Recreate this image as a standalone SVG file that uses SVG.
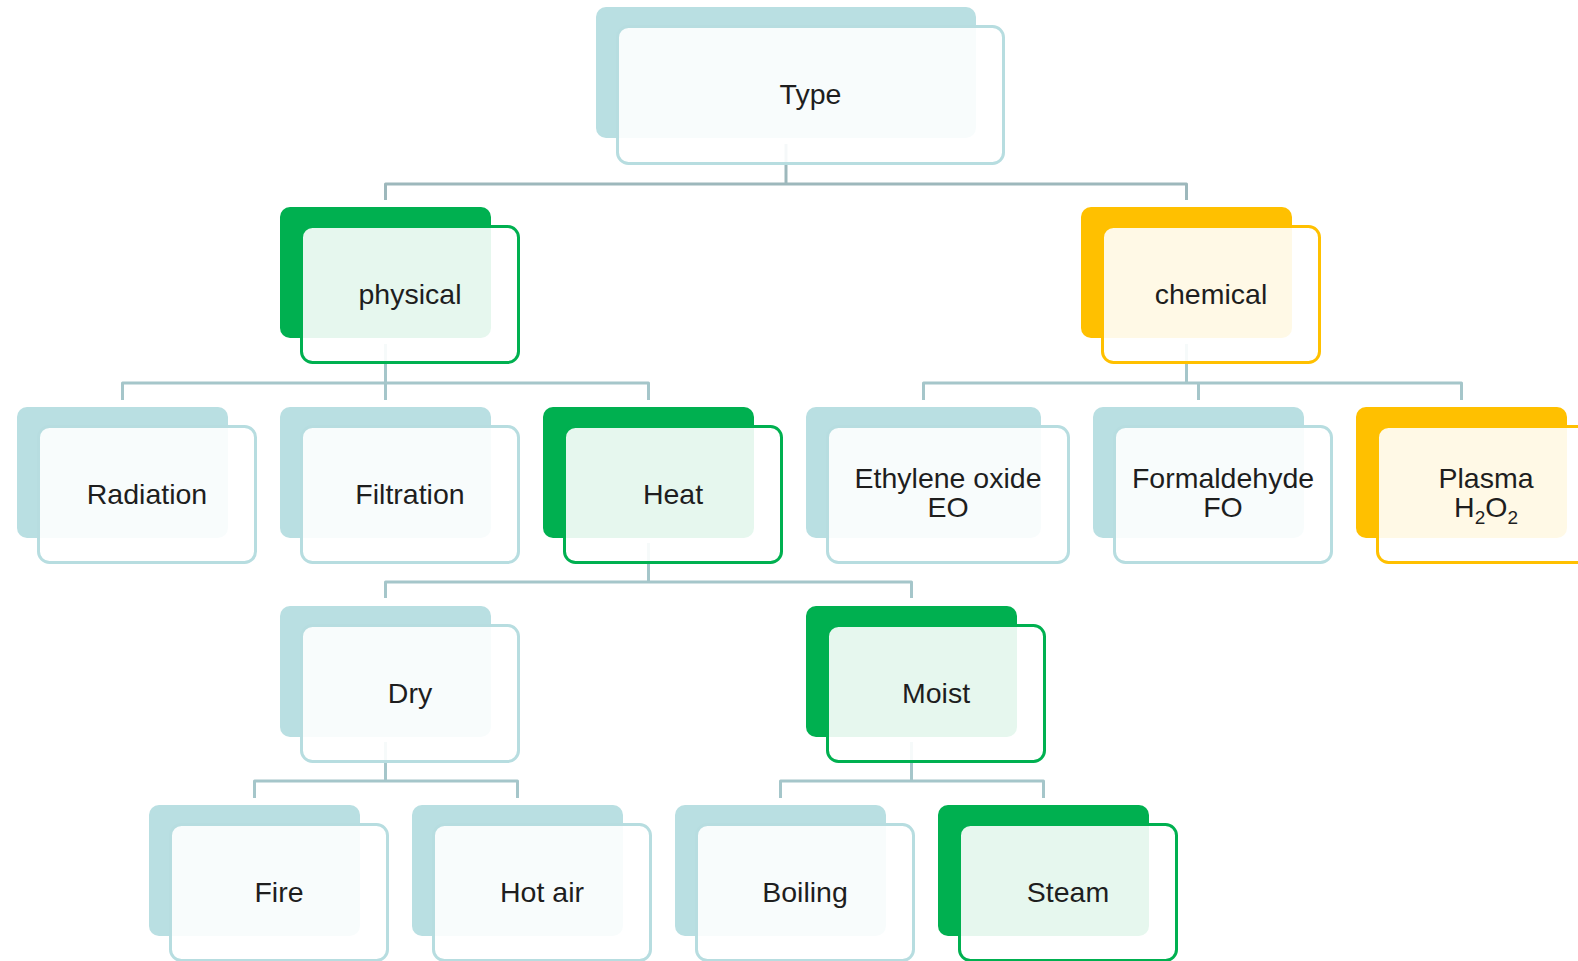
<svg xmlns="http://www.w3.org/2000/svg" width="1578" height="961" viewBox="0 0 1578 961">
<style>
  .bg{fill:#ffffff}
  .conn path{fill:none;stroke:#a5c6ca;stroke-width:3;stroke-linejoin:round;stroke-linecap:butt}
  .conn path.top{stroke:#9db8bc}
  .back{stroke:none}
  .front{fill:#ffffff;fill-opacity:0.9;stroke-width:3}
  .teal .back{fill:#b9dfe2}
  .teal .front{stroke:#b7dde0}
  .green .back{fill:#00b050}
  .green .front{stroke:#00b050}
  .orange .back{fill:#ffc000}
  .orange .front{stroke:#ffc000}
  text{font-family:"Liberation Sans",Arial,Helvetica,sans-serif;font-size:28.5px;fill:#1e1e1e;text-anchor:middle}
  .sub{font-size:19px}
</style>
<rect class="bg" x="0" y="0" width="1578" height="961"/>
<g id="connectors" class="conn">
  <path class="top" d="M786 144 V184"/>
  <path class="top" d="M385.5 200 V184 H1186.5 V200"/>
  <path d="M385.5 344 V400"/>
  <path d="M122.5 400 V383 H648.5 V400"/>
  <path d="M1186.5 344 V383"/>
  <path d="M923.5 400 V383 H1461.5 V400"/>
  <path d="M1198.5 383 V400"/>
  <path d="M648.5 543 V582"/>
  <path d="M385.5 598 V582 H911.5 V598"/>
  <path d="M385.5 742 V781"/>
  <path d="M254.5 798 V781 H517.5 V798"/>
  <path d="M911.5 742 V781"/>
  <path d="M780.5 798 V781 H1043.5 V798"/>
</g>
<g id="n-type" class="node teal">
  <rect class="back" x="596" y="7" width="380" height="131" rx="10"/>
  <rect class="front" x="617.5" y="26.5" width="386" height="137" rx="11"/>
  <text x="810.5" y="104">Type</text>
</g>
<g id="n-physical" class="node green">
  <rect class="back" x="280" y="207" width="211" height="131" rx="10"/>
  <rect class="front" x="301.5" y="226.5" width="217" height="136" rx="11"/>
  <text x="410" y="304">physical</text>
</g>
<g id="n-chemical" class="node orange">
  <rect class="back" x="1081" y="207" width="211" height="131" rx="10"/>
  <rect class="front" x="1102.5" y="226.5" width="217" height="136" rx="11"/>
  <text x="1211" y="304">chemical</text>
</g>
<g id="n-radiation" class="node teal">
  <rect class="back" x="17" y="407" width="211" height="131" rx="10"/>
  <rect class="front" x="38.5" y="426.5" width="217" height="136" rx="11"/>
  <text x="147" y="504">Radiation</text>
</g>
<g id="n-filtration" class="node teal">
  <rect class="back" x="280" y="407" width="211" height="131" rx="10"/>
  <rect class="front" x="301.5" y="426.5" width="217" height="136" rx="11"/>
  <text x="410" y="504">Filtration</text>
</g>
<g id="n-heat" class="node green">
  <rect class="back" x="543" y="407" width="211" height="131" rx="10"/>
  <rect class="front" x="564.5" y="426.5" width="217" height="136" rx="11"/>
  <text x="673" y="504">Heat</text>
</g>
<g id="n-ethylene" class="node teal">
  <rect class="back" x="806" y="407" width="235" height="131" rx="10"/>
  <rect class="front" x="827.5" y="426.5" width="241" height="136" rx="11"/>
  <text x="948" y="488">Ethylene oxide</text>
  <text x="948" y="517">EO</text>
</g>
<g id="n-formaldehyde" class="node teal">
  <rect class="back" x="1093" y="407" width="211" height="131" rx="10"/>
  <rect class="front" x="1114.5" y="426.5" width="217" height="136" rx="11"/>
  <text x="1223" y="488">Formaldehyde</text>
  <text x="1223" y="517">FO</text>
</g>
<g id="n-plasma" class="node orange">
  <rect class="back" x="1356" y="407" width="211" height="131" rx="10"/>
  <rect class="front" x="1377.5" y="426.5" width="217" height="136" rx="11"/>
  <text x="1486" y="488">Plasma</text>
  <text x="1486" y="517">H<tspan class="sub" dy="7">2</tspan><tspan dy="-7">O</tspan><tspan class="sub" dy="7">2</tspan></text>
</g>
<g id="n-dry" class="node teal">
  <rect class="back" x="280" y="606" width="211" height="131" rx="10"/>
  <rect class="front" x="301.5" y="625.5" width="217" height="136" rx="11"/>
  <text x="410" y="703">Dry</text>
</g>
<g id="n-moist" class="node green">
  <rect class="back" x="806" y="606" width="211" height="131" rx="10"/>
  <rect class="front" x="827.5" y="625.5" width="217" height="136" rx="11"/>
  <text x="936" y="703">Moist</text>
</g>
<g id="n-fire" class="node teal">
  <rect class="back" x="149" y="805" width="211" height="131" rx="10"/>
  <rect class="front" x="170.5" y="824.5" width="217" height="136" rx="11"/>
  <text x="279" y="902">Fire</text>
</g>
<g id="n-hotair" class="node teal">
  <rect class="back" x="412" y="805" width="211" height="131" rx="10"/>
  <rect class="front" x="433.5" y="824.5" width="217" height="136" rx="11"/>
  <text x="542" y="902">Hot air</text>
</g>
<g id="n-boiling" class="node teal">
  <rect class="back" x="675" y="805" width="211" height="131" rx="10"/>
  <rect class="front" x="696.5" y="824.5" width="217" height="136" rx="11"/>
  <text x="805" y="902">Boiling</text>
</g>
<g id="n-steam" class="node green">
  <rect class="back" x="938" y="805" width="211" height="131" rx="10"/>
  <rect class="front" x="959.5" y="824.5" width="217" height="136" rx="11"/>
  <text x="1068" y="902">Steam</text>
</g>
</svg>
